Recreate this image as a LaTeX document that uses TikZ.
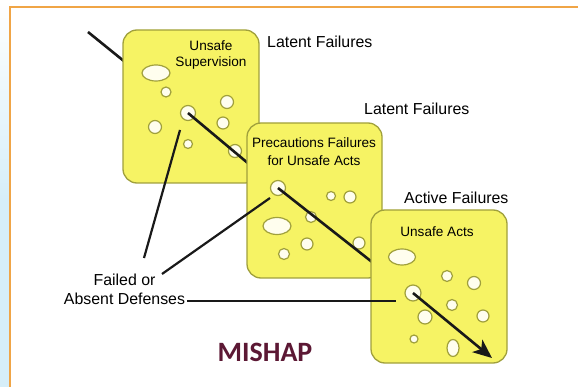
\documentclass[tikz,border=0pt]{standalone}
\usepackage{fontspec}
\setmainfont{Liberation Sans}
\newfontfamily\mishapfont{Carlito}
\usetikzlibrary{arrows.meta,shapes.geometric}
\definecolor{boxfill}{RGB}{246,243,100}
\definecolor{boxedge}{RGB}{160,160,60}
\definecolor{holefill}{RGB}{255,254,238}
\definecolor{frameorange}{RGB}{240,165,70}
\definecolor{mishapcol}{RGB}{92,24,52}
\definecolor{sideblue}{RGB}{214,238,248}
\tikzset{
  slab/.style={draw=boxedge, fill=boxfill, line width=1.3pt, rounded corners=14pt, inner sep=0pt},
  hole/.style={draw=boxedge, fill=holefill, line width=1.2pt, inner sep=0pt},
  rhole/.style={hole, circle, minimum size=#1},
  ehole/.style={hole, ellipse},
  wire/.style={line width=2.6pt, black!90},
  lbl/.style={font=\fontsize{15.9}{19}\selectfont, inner sep=0pt},
  slablbl/.style={font=\fontsize{13.6}{17}\selectfont, inner sep=0pt, align=center},
}
\begin{document}
\begin{tikzpicture}[x=1pt,y=-1pt]
\useasboundingbox (0,0) rectangle (578,387);
% frame
\shade[top color=white, bottom color=sideblue] (0,0) rectangle (9.5,200);
\fill[sideblue] (0,200) rectangle (9.5,387);
\draw[frameorange, line width=1.5pt] (10,387) -- (10,7) -- (578,7);

% start of trajectory
\coordinate (start) at (88,32);
\coordinate (h1pos) at (188,113);
\draw[wire] (start) -- (h1pos);

% box 1
\node[slab, minimum width=136pt, minimum height=153pt] (b1) at (191,106.5) {};
\node[ehole, minimum width=28pt, minimum height=16pt] (b1e) at (156,73) {};
\node[rhole=10pt] (b1a) at (166,92) {};
\node[rhole=13pt] (b1b) at (227,102) {};
\node[rhole=15pt] (h1) at (188,113) {};
\node[rhole=12pt] (b1c) at (223,123) {};
\node[rhole=13pt] (b1d) at (155,127) {};
\node[rhole=9pt] (b1f) at (188,144) {};
\node[rhole=13pt] (b1g) at (235,151) {};
\node[slablbl, font=\fontsize{13.6}{16}\selectfont] (t1) at (211,55) {Unsafe\\Supervision};
\draw[wire] (h1.center) -- (280,190);

% box 2
\node[slab, minimum width=135pt, minimum height=155pt] (b2) at (314.5,200.5) {};
\node[rhole=15pt] (h2) at (278,188) {};
\node[rhole=9pt] (b2a) at (331,196) {};
\node[rhole=12pt] (b2b) at (350,197) {};
\node[rhole=11pt] (b2c) at (311,217) {};
\node[ehole, minimum width=28pt, minimum height=17pt] (b2e) at (277,226) {};
\node[rhole=12pt] (b2d) at (307,244) {};
\node[rhole=11pt] (b2f) at (284,254) {};
\node[rhole=12pt] (b2g) at (359,243) {};
\node[slablbl, font=\fontsize{13.6}{18}\selectfont] (t2) at (314,152) {Precautions Failures\\for Unsafe Acts};
\draw[wire] (h2.center) -- (400,284);

% box 3
\node[slab, minimum width=136pt, minimum height=153pt] (b3) at (439,286.5) {};
\node[ehole, minimum width=27pt, minimum height=16pt] (b3e) at (402,257) {};
\node[rhole=11pt] (b3a) at (447,276) {};
\node[rhole=13pt] (b3b) at (474,283) {};
\node[rhole=16pt] (h3) at (413,293) {};
\node[rhole=11pt] (b3c) at (452,305) {};
\node[rhole=14pt] (b3d) at (425,317) {};
\node[rhole=12pt] (b3f) at (483,316) {};
\node[rhole=8pt] (b3g) at (414,339) {};
\node[ehole, minimum width=12pt, minimum height=17pt] (b3h) at (453,348) {};
\node[slablbl] (t3) at (437,232) {Unsafe Acts};
\coordinate (tip) at (492,358);
\draw[wire, -{Stealth[length=19pt,width=16pt,inset=5pt]}] (h3.center) -- (tip);

% labels
\node[lbl, anchor=west] (lf1) at (267,42) {Latent Failures};
\node[lbl, anchor=west] (lf2) at (364,109) {Latent Failures};
\node[lbl, anchor=west] (af) at (404,198) {Active Failures};

\node[lbl, align=center] (fd) at (124.5,289.5) {Failed or\\Absent Defenses};
\coordinate (p1a) at (144,258);
\coordinate (p1b) at (180,130);
\coordinate (p2a) at (162,274);
\coordinate (p2b) at (270,198);
\coordinate (p3b) at (396,301);
\draw[wire, line width=2.2pt] (p1a) -- (p1b);
\draw[wire, line width=2.2pt] (p2a) -- (p2b);
\draw[wire, line width=2.2pt] (fd.east |- 0,301) ++(2,0) coordinate (p3a) -- (p3b);

\node[font=\mishapfont\bfseries\fontsize{28}{30}\selectfont, text=mishapcol, inner sep=0pt] (mishap) at (265,352) {MISHAP};
\end{tikzpicture}
\end{document}
